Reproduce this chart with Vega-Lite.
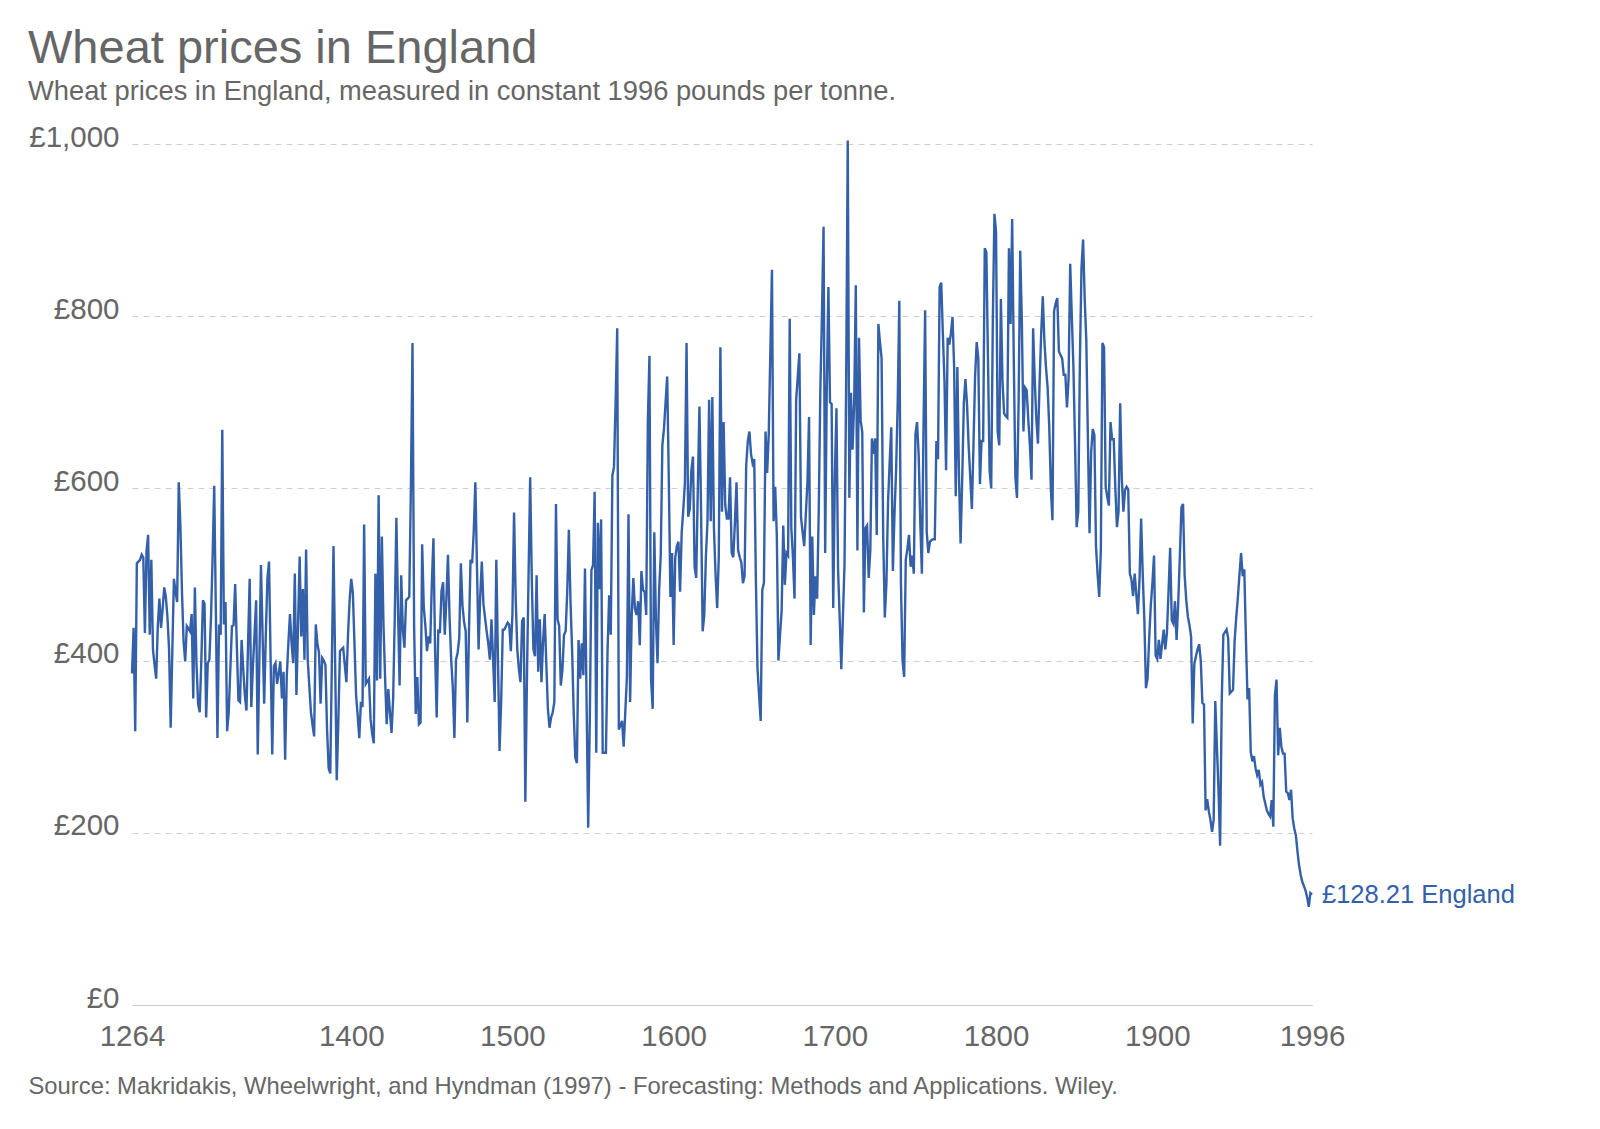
{
  "$schema": "https://vega.github.io/schema/vega-lite/v6.json",
  "width": 1180,
  "height": 861,
  "autosize": {"type": "none"},
  "padding": {"left": 132, "top": 144, "right": 288, "bottom": 124},
  "background": "white",
  "config": {"view": {"stroke": null}, "font": "Liberation Sans"},
  "title": {
    "text": "Wheat prices in England",
    "subtitle": "Wheat prices in England, measured in constant 1996 pounds per tonne.",
    "anchor": "start",
    "frame": "group",
    "dx": -104,
    "offset": 16,
    "font": "Liberation Sans",
    "fontSize": 47,
    "fontWeight": "normal",
    "color": "#666666",
    "subtitleFont": "Liberation Sans",
    "subtitleFontSize": 27.3,
    "subtitleColor": "#666666",
    "subtitlePadding": 5
  },
  "data": {"values": [
    {"year":1264,"price":385},{"year":1265,"price":438},{"year":1266,"price":318},{"year":1267,"price":513},{"year":1268,"price":515},{"year":1269,"price":517},{"year":1270,"price":523},{"year":1271,"price":520},{"year":1272,"price":432},{"year":1273,"price":527},
    {"year":1274,"price":546},{"year":1275,"price":430},{"year":1276,"price":517},{"year":1277,"price":413},{"year":1278,"price":395},{"year":1279,"price":379},{"year":1280,"price":440},{"year":1281,"price":472},{"year":1282,"price":438},{"year":1283,"price":460},
    {"year":1284,"price":485},{"year":1285,"price":474},{"year":1286,"price":450},{"year":1287,"price":413},{"year":1288,"price":322},{"year":1289,"price":410},{"year":1290,"price":495},{"year":1291,"price":480},{"year":1292,"price":468},{"year":1293,"price":607},
    {"year":1294,"price":558},{"year":1295,"price":480},{"year":1296,"price":422},{"year":1297,"price":399},{"year":1298,"price":440},{"year":1299,"price":437},{"year":1300,"price":434},{"year":1301,"price":454},{"year":1302,"price":356},{"year":1303,"price":485},
    {"year":1304,"price":397},{"year":1305,"price":350},{"year":1306,"price":340},{"year":1307,"price":400},{"year":1308,"price":470},{"year":1309,"price":466},{"year":1310,"price":334},{"year":1311,"price":397},{"year":1312,"price":401},{"year":1313,"price":450},
    {"year":1314,"price":520},{"year":1315,"price":603},{"year":1316,"price":460},{"year":1317,"price":310},{"year":1318,"price":442},{"year":1319,"price":430},{"year":1320,"price":668},{"year":1321,"price":442},{"year":1322,"price":468},{"year":1323,"price":318},
    {"year":1324,"price":340},{"year":1325,"price":390},{"year":1326,"price":440},{"year":1327,"price":441},{"year":1328,"price":489},{"year":1329,"price":420},{"year":1330,"price":354},{"year":1331,"price":352},{"year":1332,"price":424},{"year":1333,"price":390},
    {"year":1334,"price":360},{"year":1335,"price":342},{"year":1336,"price":420},{"year":1337,"price":495},{"year":1338,"price":346},{"year":1339,"price":393},{"year":1340,"price":430},{"year":1341,"price":470},{"year":1342,"price":291},{"year":1343,"price":400},
    {"year":1344,"price":511},{"year":1345,"price":430},{"year":1346,"price":350},{"year":1347,"price":430},{"year":1348,"price":495},{"year":1349,"price":515},{"year":1350,"price":400},{"year":1351,"price":291},{"year":1352,"price":393},{"year":1353,"price":397},
    {"year":1354,"price":373},{"year":1355,"price":385},{"year":1356,"price":399},{"year":1357,"price":356},{"year":1358,"price":387},{"year":1359,"price":285},{"year":1360,"price":381},{"year":1361,"price":420},{"year":1362,"price":454},{"year":1363,"price":420},
    {"year":1364,"price":397},{"year":1365,"price":501},{"year":1366,"price":360},{"year":1367,"price":440},{"year":1368,"price":521},{"year":1369,"price":428},{"year":1370,"price":483},{"year":1371,"price":401},{"year":1372,"price":529},{"year":1373,"price":401},
    {"year":1374,"price":370},{"year":1375,"price":340},{"year":1376,"price":325},{"year":1377,"price":312},{"year":1378,"price":442},{"year":1379,"price":420},{"year":1380,"price":409},{"year":1381,"price":350},{"year":1382,"price":403},{"year":1383,"price":400},
    {"year":1384,"price":395},{"year":1385,"price":320},{"year":1386,"price":275},{"year":1387,"price":269},{"year":1388,"price":400},{"year":1389,"price":533},{"year":1390,"price":400},{"year":1391,"price":261},{"year":1392,"price":330},{"year":1393,"price":411},
    {"year":1394,"price":413},{"year":1395,"price":415},{"year":1396,"price":395},{"year":1397,"price":375},{"year":1398,"price":430},{"year":1399,"price":470},{"year":1400,"price":495},{"year":1401,"price":479},{"year":1402,"price":420},{"year":1403,"price":360},
    {"year":1404,"price":336},{"year":1405,"price":310},{"year":1406,"price":352},{"year":1407,"price":346},{"year":1408,"price":558},{"year":1409,"price":373},{"year":1410,"price":376},{"year":1411,"price":379},{"year":1412,"price":332},{"year":1413,"price":315},
    {"year":1414,"price":304},{"year":1415,"price":501},{"year":1416,"price":377},{"year":1417,"price":592},{"year":1418,"price":379},{"year":1419,"price":544},{"year":1420,"price":442},{"year":1421,"price":380},{"year":1422,"price":326},{"year":1423,"price":367},
    {"year":1424,"price":340},{"year":1425,"price":316},{"year":1426,"price":356},{"year":1427,"price":450},{"year":1428,"price":566},{"year":1429,"price":460},{"year":1430,"price":371},{"year":1431,"price":499},{"year":1432,"price":436},{"year":1433,"price":415},
    {"year":1434,"price":470},{"year":1435,"price":472},{"year":1436,"price":474},{"year":1437,"price":600},{"year":1438,"price":769},{"year":1439,"price":440},{"year":1440,"price":338},{"year":1441,"price":381},{"year":1442,"price":326},{"year":1443,"price":328},
    {"year":1444,"price":535},{"year":1445,"price":462},{"year":1446,"price":440},{"year":1447,"price":411},{"year":1448,"price":428},{"year":1449,"price":420},{"year":1450,"price":490},{"year":1451,"price":542},{"year":1452,"price":413},{"year":1453,"price":334},
    {"year":1454,"price":436},{"year":1455,"price":432},{"year":1456,"price":481},{"year":1457,"price":491},{"year":1458,"price":430},{"year":1459,"price":470},{"year":1460,"price":523},{"year":1461,"price":450},{"year":1462,"price":401},{"year":1463,"price":369},
    {"year":1464,"price":310},{"year":1465,"price":401},{"year":1466,"price":409},{"year":1467,"price":426},{"year":1468,"price":513},{"year":1469,"price":464},{"year":1470,"price":445},{"year":1471,"price":434},{"year":1472,"price":328},{"year":1473,"price":430},
    {"year":1474,"price":517},{"year":1475,"price":513},{"year":1476,"price":550},{"year":1477,"price":607},{"year":1478,"price":509},{"year":1479,"price":413},{"year":1480,"price":474},{"year":1481,"price":515},{"year":1482,"price":466},{"year":1483,"price":450},
    {"year":1484,"price":434},{"year":1485,"price":420},{"year":1486,"price":401},{"year":1487,"price":448},{"year":1488,"price":401},{"year":1489,"price":352},{"year":1490,"price":517},{"year":1491,"price":405},{"year":1492,"price":295},{"year":1493,"price":352},
    {"year":1494,"price":436},{"year":1495,"price":436},{"year":1496,"price":440},{"year":1497,"price":444},{"year":1498,"price":442},{"year":1499,"price":411},{"year":1500,"price":454},{"year":1501,"price":572},{"year":1502,"price":474},{"year":1503,"price":413},
    {"year":1504,"price":390},{"year":1505,"price":375},{"year":1506,"price":446},{"year":1507,"price":450},{"year":1508,"price":236},{"year":1509,"price":380},{"year":1510,"price":499},{"year":1511,"price":613},{"year":1512,"price":495},{"year":1513,"price":413},
    {"year":1514,"price":405},{"year":1515,"price":499},{"year":1516,"price":387},{"year":1517,"price":448},{"year":1518,"price":375},{"year":1519,"price":422},{"year":1520,"price":454},{"year":1521,"price":397},{"year":1522,"price":344},{"year":1523,"price":322},
    {"year":1524,"price":334},{"year":1525,"price":340},{"year":1526,"price":352},{"year":1527,"price":582},{"year":1528,"price":448},{"year":1529,"price":440},{"year":1530,"price":371},{"year":1531,"price":389},{"year":1532,"price":430},{"year":1533,"price":434},
    {"year":1534,"price":480},{"year":1535,"price":552},{"year":1536,"price":470},{"year":1537,"price":413},{"year":1538,"price":340},{"year":1539,"price":287},{"year":1540,"price":281},{"year":1541,"price":424},{"year":1542,"price":379},{"year":1543,"price":420},
    {"year":1544,"price":383},{"year":1545,"price":507},{"year":1546,"price":352},{"year":1547,"price":206},{"year":1548,"price":332},{"year":1549,"price":505},{"year":1550,"price":511},{"year":1551,"price":596},{"year":1552,"price":293},{"year":1553,"price":560},
    {"year":1554,"price":483},{"year":1555,"price":564},{"year":1556,"price":293},{"year":1557,"price":293},{"year":1558,"price":293},{"year":1559,"price":411},{"year":1560,"price":476},{"year":1561,"price":430},{"year":1562,"price":615},{"year":1563,"price":625},
    {"year":1564,"price":700},{"year":1565,"price":786},{"year":1566,"price":320},{"year":1567,"price":325},{"year":1568,"price":330},{"year":1569,"price":300},{"year":1570,"price":340},{"year":1571,"price":381},{"year":1572,"price":570},{"year":1573,"price":352},
    {"year":1574,"price":453},{"year":1575,"price":496},{"year":1576,"price":460},{"year":1577,"price":453},{"year":1578,"price":469},{"year":1579,"price":418},{"year":1580,"price":504},{"year":1581,"price":482},{"year":1582,"price":480},{"year":1583,"price":453},
    {"year":1584,"price":677},{"year":1585,"price":754},{"year":1586,"price":378},{"year":1587,"price":344},{"year":1588,"price":549},{"year":1589,"price":448},{"year":1590,"price":397},{"year":1591,"price":482},{"year":1592,"price":522},{"year":1593,"price":650},
    {"year":1594,"price":669},{"year":1595,"price":700},{"year":1596,"price":730},{"year":1597,"price":610},{"year":1598,"price":474},{"year":1599,"price":525},{"year":1600,"price":418},{"year":1601,"price":520},{"year":1602,"price":533},{"year":1603,"price":538},
    {"year":1604,"price":480},{"year":1605,"price":549},{"year":1606,"price":576},{"year":1607,"price":607},{"year":1608,"price":769},{"year":1609,"price":567},{"year":1610,"price":576},{"year":1611,"price":621},{"year":1612,"price":637},{"year":1613,"price":509},
    {"year":1614,"price":496},{"year":1615,"price":600},{"year":1616,"price":695},{"year":1617,"price":576},{"year":1618,"price":434},{"year":1619,"price":453},{"year":1620,"price":520},{"year":1621,"price":562},{"year":1622,"price":703},{"year":1623,"price":562},
    {"year":1624,"price":706},{"year":1625,"price":554},{"year":1626,"price":500},{"year":1627,"price":461},{"year":1628,"price":520},{"year":1629,"price":764},{"year":1630,"price":573},{"year":1631,"price":677},{"year":1632,"price":581},{"year":1633,"price":565},
    {"year":1634,"price":565},{"year":1635,"price":613},{"year":1636,"price":525},{"year":1637,"price":520},{"year":1638,"price":560},{"year":1639,"price":607},{"year":1640,"price":528},{"year":1641,"price":520},{"year":1642,"price":514},{"year":1643,"price":490},
    {"year":1644,"price":498},{"year":1645,"price":626},{"year":1646,"price":655},{"year":1647,"price":666},{"year":1648,"price":640},{"year":1649,"price":629},{"year":1650,"price":634},{"year":1651,"price":496},{"year":1652,"price":392},{"year":1653,"price":360},
    {"year":1654,"price":330},{"year":1655,"price":482},{"year":1656,"price":490},{"year":1657,"price":666},{"year":1658,"price":618},{"year":1659,"price":663},{"year":1660,"price":760},{"year":1661,"price":854},{"year":1662,"price":562},{"year":1663,"price":602},
    {"year":1664,"price":546},{"year":1665,"price":400},{"year":1666,"price":430},{"year":1667,"price":458},{"year":1668,"price":557},{"year":1669,"price":488},{"year":1670,"price":525},{"year":1671,"price":522},{"year":1672,"price":797},{"year":1673,"price":554},
    {"year":1674,"price":520},{"year":1675,"price":472},{"year":1676,"price":703},{"year":1677,"price":730},{"year":1678,"price":757},{"year":1679,"price":567},{"year":1680,"price":549},{"year":1681,"price":533},{"year":1682,"price":570},{"year":1683,"price":607},
    {"year":1684,"price":683},{"year":1685,"price":418},{"year":1686,"price":544},{"year":1687,"price":453},{"year":1688,"price":498},{"year":1689,"price":472},{"year":1690,"price":573},{"year":1691,"price":714},{"year":1692,"price":800},{"year":1693,"price":904},
    {"year":1694,"price":525},{"year":1695,"price":717},{"year":1696,"price":834},{"year":1697,"price":700},{"year":1698,"price":698},{"year":1699,"price":461},{"year":1700,"price":613},{"year":1701,"price":693},{"year":1702,"price":506},{"year":1703,"price":450},
    {"year":1704,"price":390},{"year":1705,"price":450},{"year":1706,"price":512},{"year":1707,"price":720},{"year":1708,"price":1004},{"year":1709,"price":589},{"year":1710,"price":711},{"year":1711,"price":645},{"year":1712,"price":700},{"year":1713,"price":836},
    {"year":1714,"price":528},{"year":1715,"price":775},{"year":1716,"price":679},{"year":1717,"price":666},{"year":1718,"price":456},{"year":1719,"price":554},{"year":1720,"price":557},{"year":1721,"price":496},{"year":1722,"price":528},{"year":1723,"price":658},
    {"year":1724,"price":640},{"year":1725,"price":658},{"year":1726,"price":546},{"year":1727,"price":791},{"year":1728,"price":770},{"year":1729,"price":751},{"year":1730,"price":544},{"year":1731,"price":450},{"year":1732,"price":490},{"year":1733,"price":584},
    {"year":1734,"price":630},{"year":1735,"price":671},{"year":1736,"price":504},{"year":1737,"price":570},{"year":1738,"price":621},{"year":1739,"price":700},{"year":1740,"price":818},{"year":1741,"price":490},{"year":1742,"price":400},{"year":1743,"price":381},
    {"year":1744,"price":517},{"year":1745,"price":530},{"year":1746,"price":546},{"year":1747,"price":509},{"year":1748,"price":522},{"year":1749,"price":501},{"year":1750,"price":663},{"year":1751,"price":677},{"year":1752,"price":639},{"year":1753,"price":560},
    {"year":1754,"price":501},{"year":1755,"price":669},{"year":1756,"price":807},{"year":1757,"price":549},{"year":1758,"price":525},{"year":1759,"price":538},{"year":1760,"price":540},{"year":1761,"price":541},{"year":1762,"price":541},{"year":1763,"price":655},
    {"year":1764,"price":634},{"year":1765,"price":834},{"year":1766,"price":839},{"year":1767,"price":780},{"year":1768,"price":725},{"year":1769,"price":621},{"year":1770,"price":775},{"year":1771,"price":767},{"year":1772,"price":780},{"year":1773,"price":799},
    {"year":1774,"price":741},{"year":1775,"price":591},{"year":1776,"price":741},{"year":1777,"price":615},{"year":1778,"price":536},{"year":1779,"price":610},{"year":1780,"price":698},{"year":1781,"price":727},{"year":1782,"price":698},{"year":1783,"price":650},
    {"year":1784,"price":613},{"year":1785,"price":576},{"year":1786,"price":650},{"year":1787,"price":730},{"year":1788,"price":770},{"year":1789,"price":751},{"year":1790,"price":605},{"year":1791,"price":655},{"year":1792,"price":655},{"year":1793,"price":879},
    {"year":1794,"price":874},{"year":1795,"price":750},{"year":1796,"price":621},{"year":1797,"price":600},{"year":1798,"price":794},{"year":1799,"price":919},{"year":1800,"price":898},{"year":1801,"price":666},{"year":1802,"price":650},{"year":1803,"price":820},
    {"year":1804,"price":725},{"year":1805,"price":687},{"year":1806,"price":684},{"year":1807,"price":682},{"year":1808,"price":879},{"year":1809,"price":791},{"year":1810,"price":913},{"year":1811,"price":751},{"year":1812,"price":613},{"year":1813,"price":589},
    {"year":1814,"price":700},{"year":1815,"price":876},{"year":1816,"price":794},{"year":1817,"price":666},{"year":1818,"price":717},{"year":1819,"price":714},{"year":1820,"price":680},{"year":1821,"price":650},{"year":1822,"price":610},{"year":1823,"price":786},
    {"year":1824,"price":727},{"year":1825,"price":680},{"year":1826,"price":652},{"year":1827,"price":722},{"year":1828,"price":780},{"year":1829,"price":823},{"year":1830,"price":771},{"year":1831,"price":740},{"year":1832,"price":717},{"year":1833,"price":672},
    {"year":1834,"price":600},{"year":1835,"price":563},{"year":1836,"price":806},{"year":1837,"price":815},{"year":1838,"price":821},{"year":1839,"price":759},{"year":1840,"price":755},{"year":1841,"price":751},{"year":1842,"price":732},{"year":1843,"price":732},
    {"year":1844,"price":694},{"year":1845,"price":727},{"year":1846,"price":861},{"year":1847,"price":800},{"year":1848,"price":741},{"year":1849,"price":652},{"year":1850,"price":555},{"year":1851,"price":573},{"year":1852,"price":746},{"year":1853,"price":856},
    {"year":1854,"price":889},{"year":1855,"price":820},{"year":1856,"price":771},{"year":1857,"price":655},{"year":1858,"price":548},{"year":1859,"price":642},{"year":1860,"price":669},{"year":1861,"price":662},{"year":1862,"price":533},{"year":1863,"price":500},
    {"year":1864,"price":474},{"year":1865,"price":528},{"year":1866,"price":769},{"year":1867,"price":764},{"year":1868,"price":602},{"year":1869,"price":590},{"year":1870,"price":580},{"year":1871,"price":677},{"year":1872,"price":657},{"year":1873,"price":657},
    {"year":1874,"price":600},{"year":1875,"price":555},{"year":1876,"price":573},{"year":1877,"price":699},{"year":1878,"price":612},{"year":1879,"price":573},{"year":1880,"price":598},{"year":1881,"price":602},{"year":1882,"price":599},{"year":1883,"price":501},
    {"year":1884,"price":494},{"year":1885,"price":475},{"year":1886,"price":501},{"year":1887,"price":477},{"year":1888,"price":454},{"year":1889,"price":494},{"year":1890,"price":565},{"year":1891,"price":500},{"year":1892,"price":447},{"year":1893,"price":368},
    {"year":1894,"price":379},{"year":1895,"price":426},{"year":1896,"price":464},{"year":1897,"price":490},{"year":1898,"price":522},{"year":1899,"price":406},{"year":1900,"price":402},{"year":1901,"price":424},{"year":1902,"price":402},{"year":1903,"price":419},
    {"year":1904,"price":436},{"year":1905,"price":413},{"year":1906,"price":432},{"year":1907,"price":480},{"year":1908,"price":531},{"year":1909,"price":447},{"year":1910,"price":443},{"year":1911,"price":469},{"year":1912,"price":424},{"year":1913,"price":466},
    {"year":1914,"price":520},{"year":1915,"price":578},{"year":1916,"price":582},{"year":1917,"price":499},{"year":1918,"price":470},{"year":1919,"price":451},{"year":1920,"price":441},{"year":1921,"price":428},{"year":1922,"price":327},{"year":1923,"price":396},
    {"year":1924,"price":405},{"year":1925,"price":413},{"year":1926,"price":419},{"year":1927,"price":400},{"year":1928,"price":351},{"year":1929,"price":349},{"year":1930,"price":226},{"year":1931,"price":239},{"year":1932,"price":225},{"year":1933,"price":215},
    {"year":1934,"price":201},{"year":1935,"price":215},{"year":1936,"price":353},{"year":1937,"price":300},{"year":1938,"price":250},{"year":1939,"price":185},{"year":1940,"price":353},{"year":1941,"price":430},{"year":1942,"price":433},{"year":1943,"price":436},
    {"year":1944,"price":426},{"year":1945,"price":362},{"year":1946,"price":364},{"year":1947,"price":366},{"year":1948,"price":423},{"year":1949,"price":450},{"year":1950,"price":473},{"year":1951,"price":500},{"year":1952,"price":525},{"year":1953,"price":498},
    {"year":1954,"price":506},{"year":1955,"price":426},{"year":1956,"price":355},{"year":1957,"price":368},{"year":1958,"price":294},{"year":1959,"price":283},{"year":1960,"price":289},{"year":1961,"price":275},{"year":1962,"price":267},{"year":1963,"price":273},
    {"year":1964,"price":256},{"year":1965,"price":259},{"year":1966,"price":242},{"year":1967,"price":234},{"year":1968,"price":226},{"year":1969,"price":222},{"year":1970,"price":219},{"year":1971,"price":238},{"year":1972,"price":207},{"year":1973,"price":360},
    {"year":1974,"price":378},{"year":1975,"price":290},{"year":1976,"price":322},{"year":1977,"price":300},{"year":1978,"price":292},{"year":1979,"price":292},{"year":1980,"price":248},{"year":1981,"price":246},{"year":1982,"price":238},{"year":1983,"price":250},
    {"year":1984,"price":217},{"year":1985,"price":205},{"year":1986,"price":197},{"year":1987,"price":178},{"year":1988,"price":162},{"year":1989,"price":151},{"year":1990,"price":143},{"year":1991,"price":138},{"year":1992,"price":133},{"year":1993,"price":125},
    {"year":1994,"price":114},{"year":1995,"price":130},{"year":1996,"price":128.21}
  ]},
  "layer": [
    {
      "mark": {"type": "line", "color": "#3360a9", "strokeWidth": 2.4, "clip": false},
      "encoding": {
        "x": {
          "field": "year",
          "type": "quantitative",
          "scale": {"domain": [1264, 1996], "nice": false, "zero": false},
          "axis": {
            "values": [1264, 1400, 1500, 1600, 1700, 1800, 1900, 1996],
            "format": "d",
            "grid": false,
            "ticks": false,
            "tickSize": 0,
            "labelPadding": 17,
            "labelFontSize": 29.5,
            "labelColor": "#666666",
            "labelFlush": false,
            "labelBaseline": "top",
            "domainColor": "#cccccc",
            "domainWidth": 1,
            "title": "Source: Makridakis, Wheelwright, and Hyndman (1997) - Forecasting: Methods and Applications. Wiley.",
            "titleX": -104,
            "titleY": 88,
            "titleAlign": "left",
            "titleAnchor": "start",
            "titleBaseline": "alphabetic",
            "titleFontSize": 23.8,
            "titleFontWeight": "normal",
            "titleColor": "#666666"
          }
        },
        "y": {
          "field": "price",
          "type": "quantitative",
          "scale": {"domain": [0, 1000], "nice": false},
          "axis": {
            "values": [0, 200, 400, 600, 800, 1000],
            "labelExpr": "'£' + format(datum.value, ',')",
            "grid": true,
            "gridDash": [6, 5],
            "gridColor": "#cfcfcf",
            "gridWidth": 1,
            "domain": false,
            "ticks": false,
            "tickSize": 0,
            "labelPadding": 13,
            "labelFontSize": 29.5,
            "labelColor": "#666666",
            "labelOffset": -7,
            "title": null
          }
        }
      }
    },
    {
      "transform": [{"filter": "datum.year == 1996"}],
      "mark": {"type": "text", "text": "£128.21 England", "align": "left", "baseline": "middle", "dx": 10, "fontSize": 25.5, "color": "#3360a9"},
      "encoding": {
        "x": {"field": "year", "type": "quantitative"},
        "y": {"field": "price", "type": "quantitative"}
      }
    }
  ]
}
